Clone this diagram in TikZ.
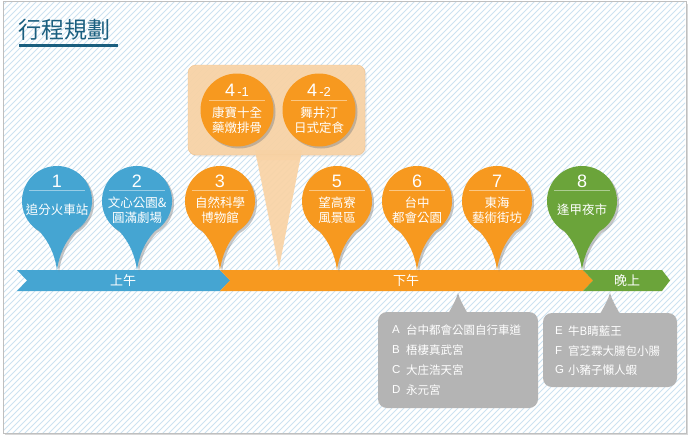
\documentclass[tikz,border=0pt]{standalone}
\usepackage{fontspec}
\setmainfont{Noto Sans CJK TC}
\newfontfamily\latin{Liberation Sans}
\usetikzlibrary{shadows}
\definecolor{pinblue}{HTML}{45A5D2}
\definecolor{pinorange}{HTML}{F7991F}
\definecolor{pingreen}{HTML}{6BA43A}
\definecolor{peach}{HTML}{F9D3A5}
\definecolor{peachline}{HTML}{F2C28C}
\definecolor{boxgray}{HTML}{B4B4B4}
\definecolor{hatch}{HTML}{CCE2F1}
\definecolor{titleblue}{HTML}{1B5F7F}
\tikzset{
  pinshadow/.style={drop shadow={shadow xshift=2pt,shadow yshift=-2pt,opacity=0.45}},
  pinnum/.style={text=white,font=\latin\fontsize{18}{18}\selectfont,inner sep=0pt},
  pintext/.style={text=white,font=\fontsize{12.5}{15}\selectfont,align=center,inner sep=0pt},
  sepline/.style={draw=white,draw opacity=0.45,line width=0.7pt},
  bandtext/.style={text=white,font=\fontsize{13}{13}\selectfont,inner sep=0pt},
  graytext/.style={text=white,font=\fontsize{11.5}{11.5}\selectfont,inner sep=0pt,anchor=west},
  grayletter/.style={text=white,font=\latin\fontsize{11.5}{11.5}\selectfont,inner sep=0pt,anchor=west},
}
\newcommand\mypin[5]{%
  \path[fill=#3,pinshadow] (#2-17.5,231.3) arc[start angle=120,end angle=420,radius=35]
    .. controls (#2+8,242) and (#2+2,255) .. (#2,270)
    .. controls (#2-2,255) and (#2-8,242) .. cycle;
  \node[pinnum] (#1n) at (#2,181) {#4};
  \draw[sepline] (#2-28,190) -- (#2+28,190);
  \node[pintext] (#1t) at (#2,210) {#5};
}
\newcommand\mysubpin[5]{%
  \path[fill=pinorange,pinshadow] (#2,110) circle[radius=36.5];
  \node[pinnum] (#1n) at (#2,90) {4\fontsize{13}{13}\selectfont\,-#3};
  \draw[sepline] (#2-28,100) -- (#2+28,100);
  \node[pintext] (#1t) at (#2,120) {#4\\#5};
}
\begin{document}
\begin{tikzpicture}[x=1pt,y=-1pt]
\useasboundingbox (0,0) rectangle (696,440);
\fill[white] (0,0) rectangle (696,440);
\filldraw[fill=white,draw=black!25,line width=1pt,drop shadow={shadow xshift=2pt,shadow yshift=-2pt,opacity=0.3}] (3,1.5) rectangle (686,433);
\begin{scope}
  \clip (4,2.5) rectangle (685,432);
  \foreach \i in {-450,-444,...,700} \draw[hatch,line width=0.8pt] (\i,440) -- (\i+440,0);
\end{scope}
% title
\node[anchor=west,inner sep=0pt,text=titleblue,font=\fontsize{23}{23}\selectfont] (title) at (18,30) {行程規劃};
\fill[titleblue] (19,43.5) rectangle (118,47);
% timeline band
\fill[pinblue] (17,270) -- (220,270) -- (230,280.5) -- (220,291) -- (17,291) -- (27,280.5) -- cycle;
\fill[pinorange] (220,270) -- (583,270) -- (593,280.5) -- (583,291) -- (220,291) -- (230,280.5) -- cycle;
\fill[pingreen] (583,270) -- (662,270) -- (670,280.5) -- (662,291) -- (583,291) -- (593,280.5) -- cycle;
\node[bandtext] (am) at (123,281) {上午};
\node[bandtext] (pm) at (406,281) {下午};
\node[bandtext] (eve) at (627,281) {晚上};
% peach callout
\fill[peach,opacity=0.92] (255,150) -- (302,150) -- (279,268) -- cycle;
\filldraw[fill=peach,draw=peachline,fill opacity=0.92,rounded corners=8,drop shadow={shadow xshift=1.5pt,shadow yshift=-1.5pt,opacity=0.15}] (188,65) rectangle (365,155);
\fill[peach,opacity=0.92] (256,154.5) -- (301,154.5) -- (300,160) -- (257,160) -- cycle;
\mysubpin{p41}{237}{1}{康寶十全}{藥燉排骨}
\mysubpin{p42}{319}{2}{舞井汀}{日式定食}
% pins
\mypin{p1}{57}{pinblue}{1}{追分火車站}
\mypin{p2}{137}{pinblue}{2}{文心公園\&\\圓滿劇場}
\mypin{p3}{220}{pinorange}{3}{自然科學\\博物館}
\mypin{p5}{337}{pinorange}{5}{望高寮\\風景區}
\mypin{p6}{417}{pinorange}{6}{台中\\都會公園}
\mypin{p7}{497}{pinorange}{7}{東海\\藝術街坊}
\mypin{p8}{582}{pingreen}{8}{逢甲夜市}
% gray boxes
\fill[boxgray] (448,314) .. controls (453,305) and (456,300) .. (458,293) .. controls (460,300) and (463,305) .. (468,314) -- cycle;
\fill[boxgray,rounded corners=9] (378,312) rectangle (538,408);
\node[grayletter] (la) at (392,330) {A}; \node[graytext] (ta) at (406,330) {台中都會公園自行車道};
\node[grayletter] (lb) at (392,350) {B}; \node[graytext] (tb) at (406,350) {梧棲真武宮};
\node[grayletter] (lc) at (392,370) {C}; \node[graytext] (tc) at (406,370) {大庄浩天宮};
\node[grayletter] (ld) at (392,390) {D}; \node[graytext] (td) at (406,390) {永元宮};
\fill[boxgray] (600,314) .. controls (605,305) and (608,300) .. (610,293) .. controls (612,300) and (615,305) .. (620,314) -- cycle;
\fill[boxgray,rounded corners=9] (543,313) rectangle (677,387);
\node[grayletter] (le) at (555,331) {E}; \node[graytext] (te) at (568,331) {牛B睛藍王};
\node[grayletter] (lf) at (555,351) {F}; \node[graytext] (tf) at (568,351) {官芝霖大腸包小腸};
\node[grayletter] (lg) at (555,370) {G}; \node[graytext] (tg) at (568,370) {小豬子懶人蝦};
\end{tikzpicture}
\end{document}
